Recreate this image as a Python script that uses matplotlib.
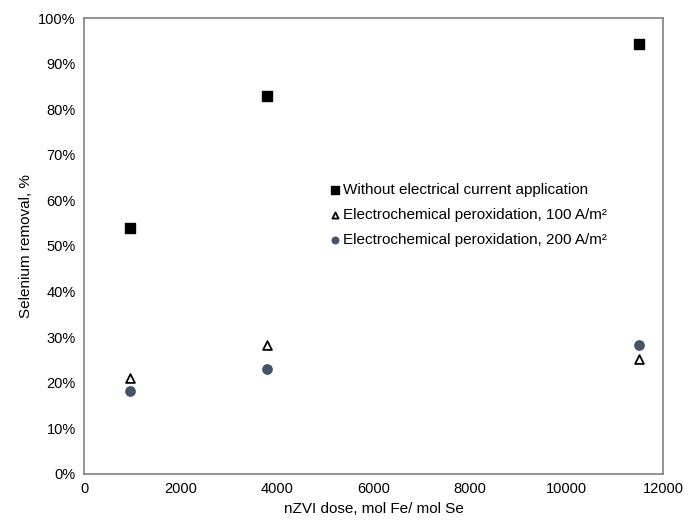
import matplotlib.pyplot as plt
from matplotlib.ticker import PercentFormatter

plt.rcParams['font.family'] = ['Liberation Sans', 'DejaVu Sans']

dose = [950, 3800, 11500]
no_current = [54.0, 83.0, 94.3]
ecp_100 = [21.0, 28.2, 25.3]
ecp_200 = [18.2, 23.0, 28.3]

fig = plt.figure(figsize=(6.92, 5.22), dpi=100)
ax = fig.add_axes([0.1214, 0.092, 0.8366, 0.8735])

ax.scatter(dose, no_current, marker='s', s=55, color='black', zorder=3,
           label='Without electrical current application')
ax.scatter(dose, ecp_100, marker='^', s=40, facecolor='white', edgecolor='black',
           linewidths=1.3, zorder=3, label='Electrochemical peroxidation, 100 A/m²')
ax.scatter(dose, ecp_200, marker='o', s=45, color='#44546a', zorder=3,
           label='Electrochemical peroxidation, 200 A/m²')

ax.set_xlim(0, 12000)
ax.set_ylim(0, 100)
ax.set_xticks(range(0, 12001, 2000))
ax.set_yticks(range(0, 101, 10))
ax.yaxis.set_major_formatter(PercentFormatter(decimals=0))
ax.tick_params(length=0, labelsize=10.5, pad=6)
for s in ax.spines.values():
    s.set_color('#808080')
    s.set_linewidth(1.2)

ax.set_xlabel('nZVI dose, mol Fe/ mol Se', fontsize=11)
ax.set_ylabel('Selenium removal, %', fontsize=11)

ax.legend(loc='upper left', bbox_to_anchor=(0.41, 0.652), frameon=False,
          fontsize=11, handletextpad=0.0, borderaxespad=0, labelspacing=0.72,
          handlelength=1.0, markerscale=0.7)

fig.savefig('out.png', dpi=100)
